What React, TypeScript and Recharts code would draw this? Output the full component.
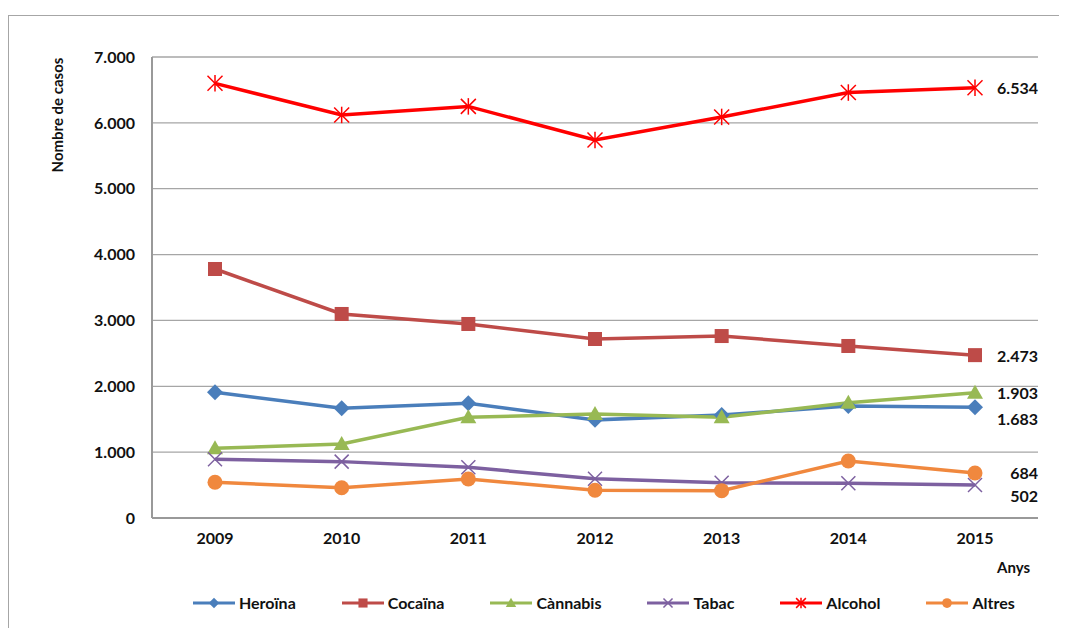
import { LineChart, Line, XAxis, YAxis, CartesianGrid, Legend, LabelList } from "recharts"

const years = ["2009", "2010", "2011", "2012", "2013", "2014", "2015"]
const heroina = [1910, 1666, 1742, 1490, 1564, 1700, 1683]
const cocaina = [3781, 3098, 2946, 2718, 2763, 2612, 2473]
const cannabis = [1058, 1124, 1529, 1578, 1529, 1751, 1903]
const tabac = [891, 856, 770, 595, 536, 527, 502]
const alcohol = [6600, 6120, 6250, 5740, 6090, 6460, 6534]
const altres = [542, 460, 592, 422, 415, 865, 684]
const yTicks = [0, 1000, 2000, 3000, 4000, 5000, 6000, 7000]

const data = years.map((year, i) => ({
  year,
  heroina: heroina[i],
  cocaina: cocaina[i],
  cannabis: cannabis[i],
  tabac: tabac[i],
  alcohol: alcohol[i],
  altres: altres[i],
}))

const FONT = "Lato, 'Open Sans', sans-serif"

const series = [
  { key: "heroina", name: "Heroïna", color: "#4A7EBB", shape: "diamond", labelDy: 11 },
  { key: "cocaina", name: "Cocaïna", color: "#BE4B48", shape: "square", labelDy: 0 },
  { key: "cannabis", name: "Cànnabis", color: "#98B954", shape: "triangle", labelDy: 0 },
  { key: "tabac", name: "Tabac", color: "#7D60A0", shape: "cross", labelDy: 11 },
  { key: "alcohol", name: "Alcohol", color: "#FF0000", shape: "star", labelDy: 0 },
  { key: "altres", name: "Altres", color: "#F0883E", shape: "circle", labelDy: 0 },
]

const fmt = (v: number) => String(v).replace(/\B(?=(\d{3})+(?!\d))/g, ".")

function Marker({ shape, color, cx, cy, s = 1 }: any) {
  if (cx == null || cy == null) return null
  switch (shape) {
    case "diamond": {
      const r = 8 * s
      return <polygon points={`${cx},${cy - r} ${cx + r},${cy} ${cx},${cy + r} ${cx - r},${cy}`} fill={color} />
    }
    case "square": {
      const r = 7 * s
      return <rect x={cx - r} y={cy - r} width={2 * r} height={2 * r} fill={color} />
    }
    case "triangle": {
      const r = 8 * s
      return <polygon points={`${cx},${cy - r} ${cx + r},${cy + r * 0.75} ${cx - r},${cy + r * 0.75}`} fill={color} />
    }
    case "cross": {
      const r = 7 * s
      return (
        <g stroke={color} strokeWidth={1.5}>
          <line x1={cx - r} y1={cy - r} x2={cx + r} y2={cy + r} />
          <line x1={cx - r} y1={cy + r} x2={cx + r} y2={cy - r} />
        </g>
      )
    }
    case "star": {
      const r = 7.5 * s
      return (
        <g stroke={color} strokeWidth={1.5}>
          <line x1={cx - r} y1={cy - r} x2={cx + r} y2={cy + r} />
          <line x1={cx - r} y1={cy + r} x2={cx + r} y2={cy - r} />
          <line x1={cx} y1={cy - r * 1.1} x2={cx} y2={cy + r * 1.1} />
        </g>
      )
    }
    default:
      return <circle cx={cx} cy={cy} r={7.5 * s} fill={color} />
  }
}

const endLabel = (dy: number) => (props: any) => {
  const { x, y, index, value } = props
  if (index !== years.length - 1) return null
  return (
    <text x={x + 63} y={y + dy} textAnchor="end" dominantBaseline="central" fontFamily={FONT} fontWeight={700} fontSize={16} fill="#111">
      {fmt(value)}
    </text>
  )
}

function LegendContent() {
  return (
    <div style={{ display: "flex", alignItems: "center", fontFamily: FONT, fontWeight: 700, fontSize: 16, color: "#111" }}>
      {series.map((s) => (
        <div key={s.key} style={{ display: "flex", alignItems: "center", marginRight: 46 }}>
          <svg width={42} height={16}>
            <line x1={0} y1={8} x2={42} y2={8} stroke={s.color} strokeWidth={3} />
            <Marker shape={s.shape} color={s.color} cx={21} cy={8} s={0.65} />
          </svg>
          <span style={{ marginLeft: 4 }}>{s.name}</span>
        </div>
      ))}
    </div>
  )
}

export default function App() {
  return (
    <div style={{ position: "relative", width: 1059, height: 620, overflow: "hidden", background: "#fff" }}>
      <div style={{ position: "absolute", left: 0, top: 7, width: 1200, height: 800, border: "1px solid #a6a6a6" }} />
      <div style={{ position: "absolute", left: 0, top: 0 }}>
        <LineChart width={1059} height={620} data={data} margin={{ top: 49, right: 29, bottom: 51, left: 0 }}>
          <CartesianGrid vertical={false} stroke="#a6a6a6" strokeWidth={1.3} />
          <XAxis
            dataKey="year"
            padding={{ left: 63, right: 63 }}
            axisLine={{ stroke: "#999", strokeWidth: 2 }}
            tickLine={false}
            tickSize={0}
            tickMargin={15}
            height={40}
            tick={{ fontFamily: FONT, fontWeight: 700, fontSize: 16, fill: "#111" }}
            label={() => (
              <text x={1022} y={559} textAnchor="end" dominantBaseline="central" fontFamily={FONT} fontWeight={700} fontSize={15} fill="#111">
                Anys
              </text>
            )}
          />
          <YAxis
            width={144}
            domain={[0, 7000]}
            ticks={yTicks}
            tickFormatter={fmt}
            axisLine={{ stroke: "#999", strokeWidth: 2 }}
            tickLine={false}
            tickSize={0}
            tickMargin={17}
            tick={{ fontFamily: FONT, fontWeight: 700, fontSize: 16, fill: "#111" }}
            label={() => (
              <text x={49} y={107} transform="rotate(-90 49 107)" textAnchor="middle" dominantBaseline="central" fontFamily={FONT} fontWeight={700} fontSize={15} fill="#111">
                Nombre de casos
              </text>
            )}
          />
          <Legend content={<LegendContent />} wrapperStyle={{ left: 185, top: 585, width: 900 }} />
          {series.map((s) => (
            <Line
              key={s.key}
              dataKey={s.key}
              name={s.name}
              stroke={s.color}
              strokeWidth={3.5}
              isAnimationActive={false}
              dot={(p: any) => <Marker key={`${s.key}-${p.index}`} shape={s.shape} color={s.color} cx={p.cx} cy={p.cy} />}
              activeDot={false}
            >
              <LabelList dataKey={s.key} content={endLabel(s.labelDy)} />
            </Line>
          ))}
        </LineChart>
      </div>
    </div>
  )
}
